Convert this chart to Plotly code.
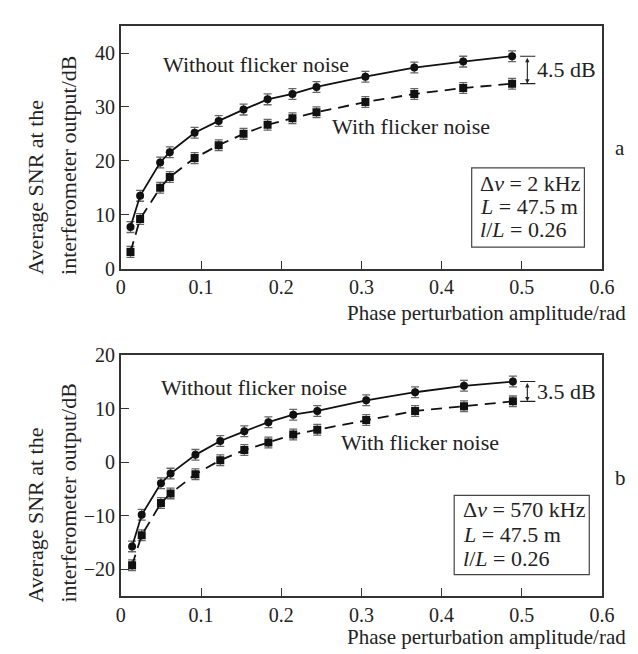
import plotly.graph_objects as go

# ---- data ----
x_a = [0.012, 0.024, 0.049, 0.061, 0.092, 0.122, 0.153, 0.183, 0.214, 0.244, 0.305, 0.366, 0.427, 0.488]
a_without = [7.7, 13.5, 19.7, 21.6, 25.2, 27.4, 29.5, 31.4, 32.4, 33.7, 35.6, 37.3, 38.4, 39.4]
a_with = [3.1, 9.2, 15.0, 17.0, 20.5, 22.9, 25.0, 26.7, 27.9, 29.0, 30.9, 32.4, 33.5, 34.3]

x_b = [0.014, 0.026, 0.050, 0.062, 0.093, 0.124, 0.154, 0.184, 0.215, 0.245, 0.306, 0.367, 0.428, 0.489]
b_without = [-15.7, -9.8, -3.9, -2.1, 1.4, 4.0, 5.8, 7.5, 8.9, 9.6, 11.6, 13.1, 14.3, 15.1]
b_with = [-19.2, -13.6, -7.6, -5.8, -2.2, 0.4, 2.3, 3.7, 5.2, 6.1, 7.9, 9.6, 10.5, 11.4]

err = 1.0
x_ticks = [0, 0.1, 0.2, 0.3, 0.4, 0.5, 0.6]
x_ticklabels = ["0", "0.1", "0.2", "0.3", "0.4", "0.5", "0.6"]
ya_ticks = [0, 10, 20, 30, 40]
yb_ticks = [-20, -10, 0, 10, 20]
yb_ticklabels = ["\u221220", "\u221210", "0", "10", "20"]

W, H = 638, 654
FONT = "Liberation Serif"

def px(x):
    return x / W

def py(y):
    return 1 - y / H

fig = go.Figure()

def add_series(xs, ys, xa, ya, symbol, dash):
    fig.add_trace(go.Scatter(
        x=xs, y=ys, xaxis=xa, yaxis=ya, mode="lines+markers",
        line=dict(color="#111", width=1.8, dash=dash),
        marker=dict(symbol=symbol, size=8, color="#111"),
        error_y=dict(type="constant", value=err, color="#666", thickness=1.3, width=4),
        showlegend=False,
    ))

add_series(x_a, a_without, "x", "y", "circle", "solid")
add_series(x_a, a_with, "x", "y", "square", "11px,7px")
add_series(x_b, b_without, "x2", "y2", "circle", "solid")
add_series(x_b, b_with, "x2", "y2", "square", "11px,7px")

xdom = [px(111), px(606)]
axis_common = dict(
    showline=True, mirror=True, linecolor="#333", linewidth=1.5,
    ticks="inside", ticklen=8, tickcolor="#333", tickwidth=1.3,
    showgrid=False, zeroline=False,
    tickfont=dict(family=FONT, size=20, color="#222"),
)

fig.update_layout(
    width=W, height=H,
    margin=dict(l=0, r=0, t=0, b=0),
    paper_bgcolor="white", plot_bgcolor="white",
    xaxis=dict(domain=xdom, range=[0, 0.6], anchor="y",
               tickvals=x_ticks, ticktext=x_ticklabels, **axis_common),
    yaxis=dict(domain=[py(258.3), py(7.3)], range=[0, 45], anchor="x",
               tickvals=ya_ticks, **axis_common),
    xaxis2=dict(domain=xdom, range=[0, 0.6], anchor="y2",
                tickvals=x_ticks, ticktext=x_ticklabels, **axis_common),
    yaxis2=dict(domain=[py(597.3), py(348)], range=[-25, 20], anchor="x2",
                tickvals=yb_ticks, ticktext=yb_ticklabels, **axis_common),
)

anns = []

def text_ann(x, y, text, xref, yref, xanchor="center", yanchor="middle", size=22, angle=0):
    anns.append(dict(x=x, y=y, xref=xref, yref=yref, text=text, showarrow=False,
                     xanchor=xanchor, yanchor=yanchor, textangle=angle,
                     font=dict(family=FONT, size=size, color="#222")))

# curve labels
text_ann(0.169, 37.8, "Without flicker noise", "x", "y")
text_ann(0.362, 26.3, "With flicker noise", "x", "y")
text_ann(0.166, 13.95, "Without flicker noise", "x2", "y2")
text_ann(0.373, 3.7, "With flicker noise", "x2", "y2")

# difference brackets
def bracket(xr, yr, ytop, ybot, label):
    for yv in (ytop, ybot):
        fig.add_shape(type="line", xref=xr, yref=yr, x0=0.498, x1=0.517, y0=yv, y1=yv,
                      line=dict(color="#222", width=1.2))
    anns.append(dict(x=0.507, y=ybot, ax=0.507, ay=ytop, xref=xr, yref=yr, axref=xr, ayref=yr,
                     text="", showarrow=True, arrowhead=2, arrowsize=0.8, arrowwidth=1.1,
                     arrowside="end+start", arrowcolor="#222"))
    text_ann(0.517, (ytop + ybot) / 2, label, xr, yr, xanchor="left")

bracket("x", "y", a_without[-1], a_with[-1], "4.5 dB")
bracket("x2", "y2", b_without[-1], b_with[-1], "3.5 dB")

# parameter boxes
fig.add_shape(type="rect", xref="paper", yref="paper", x0=px(472), x1=px(588), y0=py(236), y1=py(154),
              line=dict(color="#444", width=1.2))
fig.add_shape(type="rect", xref="paper", yref="paper", x0=px(454), x1=px(593), y0=py(575), y1=py(493),
              line=dict(color="#444", width=1.2))
box_a = ["\u0394<i>\u03bd</i> = 2 kHz", "<i>L</i> = 47.5 m", "<i>l</i>/<i>L</i> = 0.26"]
box_b = ["\u0394<i>\u03bd</i> = 570 kHz", "<i>L</i> = 47.5 m", "<i>l</i>/<i>L</i> = 0.26"]
for t, yy in zip(box_a, [170, 194, 218]):
    text_ann(px(478), py(yy), t, "paper", "paper", xanchor="left")
for t, yy in zip(box_b, [508, 533, 558]):
    text_ann(px(461), py(yy), t, "paper", "paper", xanchor="left")

# panel letters
text_ann(px(625), py(133), "a", "paper", "paper", size=21)
text_ann(px(625), py(475), "b", "paper", "paper", size=21)

# axis titles
for ty in (304, 640):
    text_ann(px(633), py(ty), "Phase perturbation amplitude/rad", "paper", "paper",
             xanchor="right", size=21)
for yb in (267, 606):
    text_ann(px(23), py(yb), "Average SNR at the", "paper", "paper", yanchor="bottom", size=22, angle=-90)
    text_ann(px(57), py(yb), "interferometer output/dB", "paper", "paper", yanchor="bottom", size=22, angle=-90)

fig.update_layout(annotations=anns)
fig.write_html("out.html")
